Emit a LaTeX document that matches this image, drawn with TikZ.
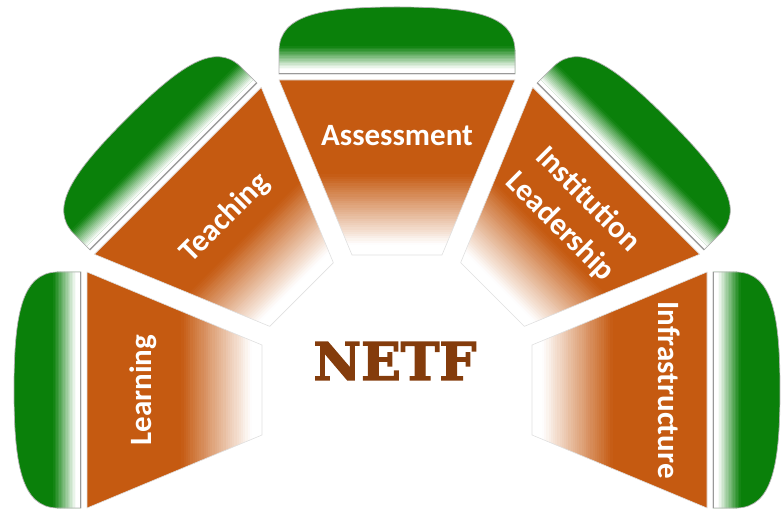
\documentclass[tikz,border=0pt]{standalone}
\usepackage{fontspec}
\newfontfamily\labelfont{Carlito}
\newfontfamily\titlefont{DejaVu Serif}[BoldFeatures={FakeBold=2.5}]
\definecolor{segorange}{RGB}{197,90,17}
\definecolor{capgreen}{RGB}{10,128,10}
\definecolor{netfbrown}{RGB}{132,60,12}
\tikzset{
  lbl/.style={text=white, font=\labelfont\bfseries\fontsize{31}{39}\selectfont, align=center, inner sep=0pt},
  title/.style={text=netfbrown, font=\titlefont\bfseries\fontsize{52}{60}\selectfont, inner sep=0pt},
}
\begin{document}
\begin{tikzpicture}[x=1pt,y=1pt]
\useasboundingbox (0,0) rectangle (781,509);
\coordinate (C) at (397,119);
\foreach \ang in {180,135,90,45,0} {
  \begin{scope}[shift={(C)}, rotate=\ang]
    % trapezoid
    \begin{scope}
      \clip (135,-45) -- (310,-118) -- (310,118) -- (135,45) -- cycle;
      \fill[white] (130,-120) rectangle (312,120);
      \fill[segorange] (214,-120) rectangle (312,120);
      \foreach \i in {0,...,31} {
        \pgfmathtruncatemacro\p{100*(\i+0.5)/32}
        \fill[segorange!\p!white] ({145+\i*2.2},-120) rectangle ({145+\i*2.2+2.6},120);
      }
    \end{scope}
    \draw[black!12, line width=0.6] (135,-45) -- (310,-118) -- (310,118) -- (135,45) -- cycle;
    % cap
    \begin{scope}
      \clip (316,118) -- (340,118) .. controls (375,117) and (383,76) .. (383,0)
            .. controls (383,-76) and (375,-117) .. (340,-118) -- (316,-118) -- cycle;
      \fill[capgreen] (316,-120) rectangle (385,120);
      \fill[white] (314,-120) rectangle (321,120);
      \foreach \i in {0,...,15} {
        \pgfmathtruncatemacro\p{100*(\i+0.5)/16}
        \fill[capgreen!\p!white] ({321+\i*1.4},-120) rectangle ({321+\i*1.4+1.8},120);
      }
    \end{scope}
    \draw[black!30, line width=0.7] (316,118) -- (340,118) .. controls (375,117) and (383,76) .. (383,0)
            .. controls (383,-76) and (375,-117) .. (340,-118) -- (316,-118) -- cycle;
    \draw[black!40, line width=1.2] (316.5,-118) -- (316.5,118);
  \end{scope}
}
\node[lbl, rotate=90]  (learning)  at ([shift={(180:254)}]C) {Learning};
\node[lbl, rotate=45]  (teaching)  at ([shift={(135:243)}]C) {Teaching};
\node[lbl]             (assess)    at ([shift={(90:254)}]C)  {Assessment};
\node[lbl, rotate=-45] (instlead)  at ([shift={(45:250)}]C)  {Institution\\Leadership};
\node[lbl, rotate=-90] (infra)     at ([shift={(0:272)}]C)   {Infrastructure};
\node[title] (netf) at (395,148) {NETF};
\end{tikzpicture}
\end{document}
